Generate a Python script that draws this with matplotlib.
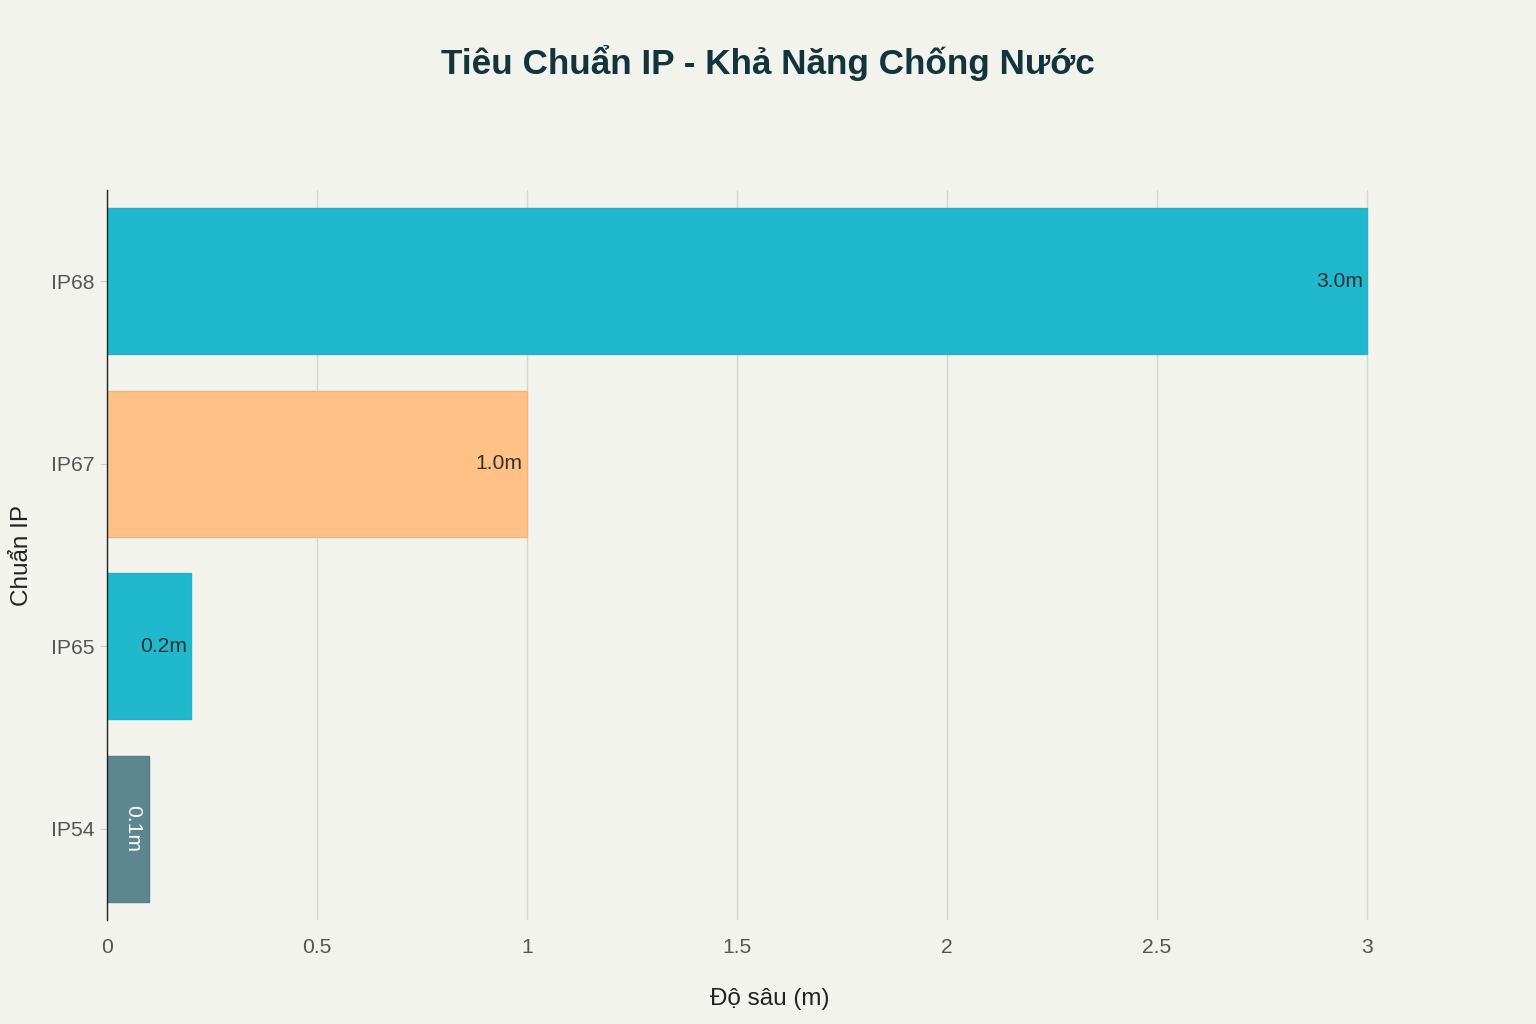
import matplotlib
matplotlib.use("Agg")
import matplotlib.pyplot as plt

categories = ["IP54", "IP65", "IP67", "IP68"]
depths = [0.1, 0.2, 1.0, 3.0]
labels = ["0.1m", "0.2m", "1.0m", "3.0m"]
colors = ["#5D878F", "#1FB8CD", "#FFC185", "#1FB8CD"]
edge_colors = ["#55808A", "#2AB0C2", "#F0B57E", "#2AB0C2"]
xticks = [0, 0.5, 1, 1.5, 2, 2.5, 3]
xticklabels = ["0", "0.5", "1", "1.5", "2", "2.5", "3"]

bg = "#F3F3EE"
plt.rcParams['font.family'] = ['Liberation Sans', 'DejaVu Sans']

fig = plt.figure(figsize=(15.36, 10.24), dpi=100, facecolor=bg)
W, H = 1536, 1024
left, right, top, bottom = 107, 1433, 190, 920
ax = fig.add_axes([left / W, 1 - bottom / H, (right - left) / W, (bottom - top) / H])
ax.set_facecolor(bg)

y = list(range(len(categories)))
bars = ax.barh(y, depths, height=0.8, color=colors, edgecolor=edge_colors,
               linewidth=1, zorder=3)

ax.set_xlim(0, (right - left) / 420)
ax.set_ylim(-0.5, len(categories) - 0.5)
ax.set_yticks(y)
ax.set_yticklabels(categories)
ax.set_xticks(xticks)
ax.set_xticklabels(xticklabels)
ax.grid(axis='x', color='#D6D6D2', linewidth=1, zorder=0)
for s in ['top', 'right', 'bottom']:
    ax.spines[s].set_visible(False)
ax.spines['left'].set_color('#222222')
ax.spines['left'].set_linewidth(1)
ax.spines['left'].set_zorder(4)
ax.tick_params(axis='y', length=5, color='#CFCFCF', labelsize=15.2, labelcolor='#555555', pad=4)
ax.tick_params(axis='x', length=0, labelsize=15.2, labelcolor='#555555', pad=13)

for yi, d, lab in zip(y, depths, labels):
    if d < 0.15:
        ax.text(d / 2 + 0.012, yi, lab, rotation=-90, ha='center', va='center',
                color='white', fontsize=15.2, zorder=5)
    else:
        ax.text(d - 0.01, yi, lab, ha='right', va='center', color='#333333',
                fontsize=15.2, zorder=5)

ax.set_xlabel("Độ sâu (m)", fontsize=17.5, color='#222222', labelpad=22.5)
ax.set_ylabel("Chuẩn IP", fontsize=17.5, color='#222222', labelpad=13)

fig.text(768 / W, 1 - 63 / H, "Tiêu Chuẩn IP - Khả Năng Chống Nước", ha='center', va='center',
         fontsize=25.3, color='#13343B', fontweight='bold')

fig.savefig("out.png", dpi=100, facecolor=bg)
